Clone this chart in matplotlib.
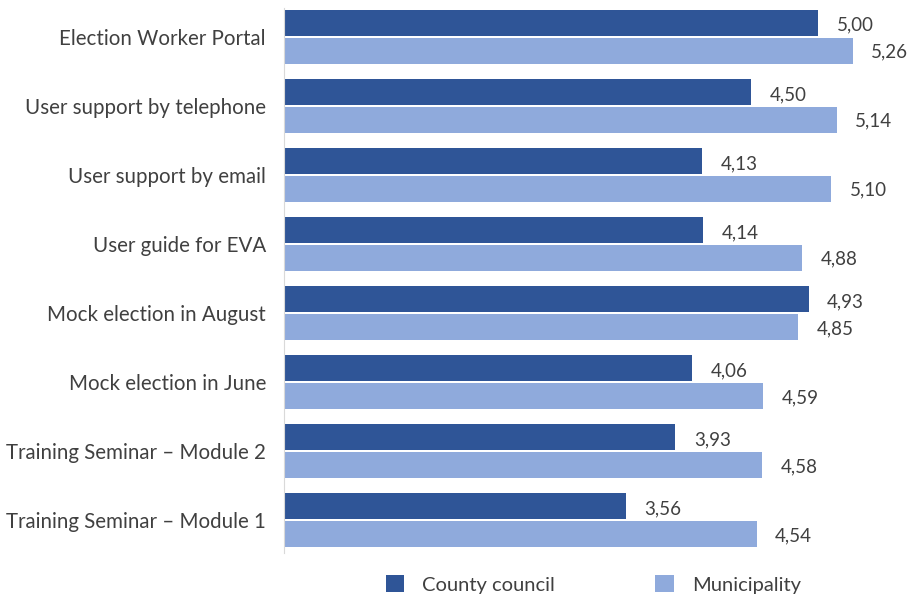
import matplotlib.pyplot as plt
import numpy as np

categories = ["Election Worker Portal", "User support by telephone", "User support by email",
              "User guide for EVA", "Mock election in August", "Mock election in June",
              "Training Seminar \u2013 Module 2", "Training Seminar \u2013 Module 1"]
county = [5.00, 4.50, 4.13, 4.14, 4.93, 4.06, 3.93, 3.56]
municipality = [5.26, 5.14, 5.10, 4.88, 4.85, 4.59, 4.58, 4.54]
series_names = ["County council", "Municipality"]

plt.rcParams['font.family'] = ['Lato', 'DejaVu Sans']
dark = '#2F5597'
light = '#8FAADC'

fig = plt.figure(figsize=(9.14, 5.95), dpi=100)
ax = fig.add_axes([284/914, 40/595, 630/914, 553/595])

y = np.arange(len(categories))
h = 0.375
gap = 0.015
ax.barh(y - h/2 - gap, np.array(county) - 1, left=1, height=h, color=dark, label=series_names[0])
ax.barh(y + h/2 + gap, np.array(municipality) - 1, left=1, height=h, color=light, label=series_names[1])

for yi, v in zip(y, county):
    ax.text(v + 0.14, yi - h/2 - gap + 0.04, f"{v:.2f}".replace('.', ','), va='center', ha='left',
            fontsize=13.5, color='#404040')
for yi, v in zip(y, municipality):
    ax.text(v + 0.14, yi + h/2 + gap + 0.02, f"{v:.2f}".replace('.', ','), va='center', ha='left',
            fontsize=13.5, color='#404040')

ax.set_xlim(1, 5.72)
ax.set_ylim(len(categories) - 0.5, -0.5)
ax.set_yticks(y)
ax.set_yticklabels(categories, fontsize=14.8, color='#404040')
ax.tick_params(axis='y', length=0, pad=13)
ax.set_xticks([])
for s in ['top', 'right', 'bottom']:
    ax.spines[s].set_visible(False)
ax.spines['left'].set_color('#D9D9D9')
ax.spines['left'].set_bounds(len(categories) - 0.53, -0.42)

leg = fig.legend(loc='lower center', bbox_to_anchor=(0.649, -0.028), ncol=2, frameon=False,
                 fontsize=14.5, handlelength=0.9, handleheight=0.9, columnspacing=5.0,
                 handletextpad=0.9, labelcolor='#404040')

fig.savefig('out.png', dpi=100)
